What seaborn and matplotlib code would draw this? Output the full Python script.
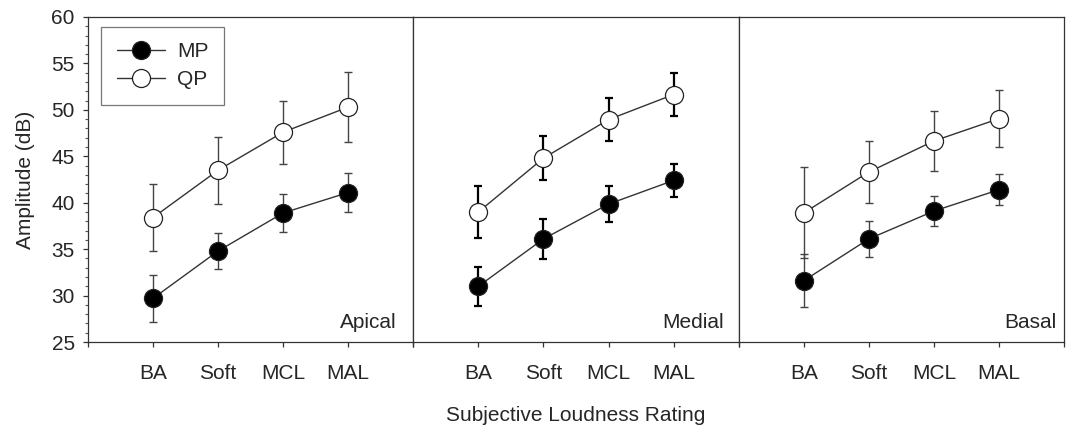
import numpy as np
import pandas as pd
import matplotlib
matplotlib.use("Agg")
import matplotlib.pyplot as plt
from matplotlib.ticker import MultipleLocator
import seaborn as sns

# Loudness categories and cochlear regions
ratings = ["BA", "Soft", "MCL", "MAL"]
regions = ["Apical", "Medial", "Basal"]

# Mean amplitude (dB) and error (dB) per region, MP stimulation
mp_apical = [29.7, 34.8, 38.9, 41.1]
mp_apical_err = [2.55, 1.95, 2.05, 2.15]
mp_medial = [31.0, 36.1, 39.85, 42.4]
mp_medial_err = [2.1, 2.2, 1.95, 1.75]
mp_basal = [31.6, 36.1, 39.1, 41.4]
mp_basal_err = [2.85, 1.9, 1.65, 1.65]

# Mean amplitude (dB) and error (dB) per region, QP stimulation
qp_apical = [38.4, 43.5, 47.6, 50.3]
qp_apical_err = [3.6, 3.6, 3.4, 3.8]
qp_medial = [39.0, 44.8, 48.95, 51.65]
qp_medial_err = [2.85, 2.4, 2.3, 2.3]
qp_basal = [38.9, 43.3, 46.65, 49.05]
qp_basal_err = [4.9, 3.35, 3.2, 3.05]

series = {
    ("MP", "Apical"): (mp_apical, mp_apical_err),
    ("MP", "Medial"): (mp_medial, mp_medial_err),
    ("MP", "Basal"): (mp_basal, mp_basal_err),
    ("QP", "Apical"): (qp_apical, qp_apical_err),
    ("QP", "Medial"): (qp_medial, qp_medial_err),
    ("QP", "Basal"): (qp_basal, qp_basal_err),
}

rows = []
for (mode, region), (vals, errs) in series.items():
    for i, (r, v, e) in enumerate(zip(ratings, vals, errs)):
        rows.append({"mode": mode, "region": region, "rating": r,
                     "pos": i + 1, "amp": v, "err": e})
df = pd.DataFrame(rows)

sns.set_style("ticks")
plt.rcParams["font.family"] = ["Liberation Sans", "DejaVu Sans"]
plt.rcParams["font.size"] = 15

face = {"MP": "black", "QP": "white"}
ink = "#333333"

fig, axes = plt.subplots(1, 3, figsize=(10.7, 4.28), dpi=100, sharey=True)
fig.subplots_adjust(left=0.0822, right=0.9944, top=0.9603, bottom=0.2009, wspace=0)

label_x = {"Apical": 4.75, "Medial": 4.78, "Basal": 4.89}

for ax, region in zip(axes, regions):
    sub = df[df["region"] == region]
    bar_color = "black" if region == "Medial" else "#444444"
    bar_lw = 1.6 if region == "Medial" else 1.0
    for mode in ["MP", "QP"]:
        d = sub[sub["mode"] == mode]
        ax.errorbar(d["pos"], d["amp"], yerr=d["err"], fmt="none",
                    ecolor=bar_color, elinewidth=bar_lw, capsize=3.2,
                    capthick=bar_lw, zorder=2)
        sns.lineplot(data=d, x="pos", y="amp", ax=ax, color=ink,
                     linewidth=1.0, marker="o", markersize=13,
                     markerfacecolor=face[mode], markeredgecolor="#222222",
                     markeredgewidth=0.9, label=mode, legend=False, zorder=3)

    ax.set_xlim(0, 5)
    ax.set_ylim(25, 60)
    ax.set_xticks(range(0, 6))
    ax.set_xticklabels([""] + ratings + [""])
    ax.tick_params(axis="x", length=3.5, width=0.9, color=ink, pad=12, labelsize=15)
    for s in ax.spines.values():
        s.set_visible(True)
        s.set_color(ink)
        s.set_linewidth(0.9)
    ax.text(label_x[region], 26.5, region, ha="right", va="baseline", fontsize=15)
    ax.set_xlabel("")
    ax.set_ylabel("")

axes[0].yaxis.set_major_locator(MultipleLocator(5))
axes[0].yaxis.set_minor_locator(MultipleLocator(1))
axes[0].tick_params(axis="y", which="major", length=3.5, width=0.9, color=ink, pad=6, labelsize=15)
axes[0].tick_params(axis="y", which="minor", length=2, width=0.8, color="#555555")
for ax in axes[1:]:
    ax.tick_params(axis="y", which="both", length=0, labelleft=False)

axes[0].set_ylabel("Amplitude (dB)", fontsize=15, labelpad=12)
axes[1].set_xlabel("Subjective Loudness Rating", fontsize=15, labelpad=17)

handles, labels = axes[0].get_legend_handles_labels()
leg = axes[0].legend(handles, labels, loc="upper left", bbox_to_anchor=(0.04, 0.97),
                     frameon=True, fancybox=False, edgecolor="#555555",
                     handlelength=2.3, handletextpad=0.6, labelspacing=0.42,
                     borderpad=0.75, borderaxespad=0, fontsize=15)
leg.get_frame().set_linewidth(0.9)

fig.savefig("out.png", dpi=100)
